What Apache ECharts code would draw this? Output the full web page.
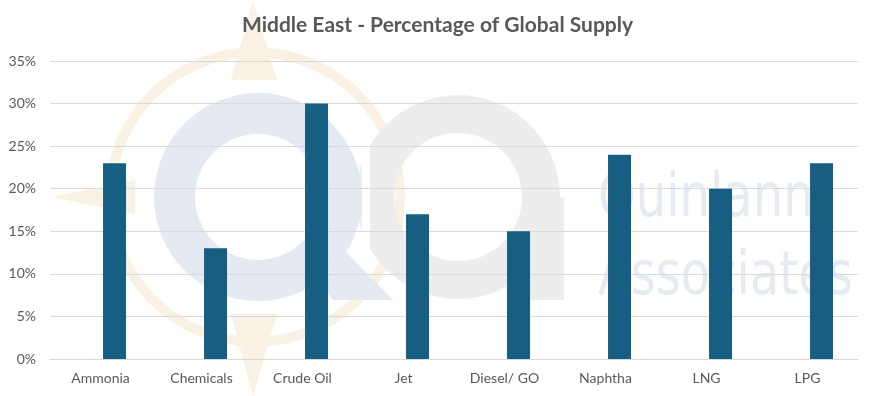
<!DOCTYPE html>
<html><head><meta charset="utf-8">
<script src="https://cdn.jsdelivr.net/npm/echarts@6/dist/echarts.min.js"></script>
<style>html,body{margin:0;padding:0;background:#fff}#c{width:875px;height:396px}</style>
</head><body><div id="c"></div>
<script>
const categories = ['Ammonia','Chemicals','Crude Oil','Jet','Diesel/ GO','Naphtha','LNG','LPG'];
const supplyShare = [23, 13, 30, 17, 15, 24, 20, 23];
// empty first series of the original clustered chart (keeps bars right of the label centre)
const emptySeries = [null, null, null, null, null, null, null, null];
const yTicks = [0, 5, 10, 15, 20, 25, 30, 35];

const chart = echarts.init(document.getElementById('c'));
const wm = [];
// compass (beige)
wm.push({type:'ring', shape:{cx:255, cy:197, r:150, r0:140}, style:{fill:'#f8f1e4'}, z:-10, silent:true});
wm.push({type:'polygon', shape:{points:[[231,80],[253,0],[277,80]]}, style:{fill:'#f8f1e4'}, z:-10, silent:true});
wm.push({type:'polygon', shape:{points:[[231,314],[253,396],[277,314]]}, style:{fill:'#f8f1e4'}, z:-10, silent:true});
wm.push({type:'polygon', shape:{points:[[135,180],[52,197],[135,214]]}, style:{fill:'#f8f1e4'}, z:-10, silent:true});
// "a" (gray)
wm.push({type:'ring', shape:{cx:458, cy:197, r:102, r0:64}, style:{fill:'#ededed'}, z:-9, silent:true});
wm.push({type:'rect', shape:{x:523, y:197, width:41, height:103}, style:{fill:'#ededed'}, z:-9, silent:true});
wm.push({type:'rect', shape:{x:362, y:140, width:8, height:115}, style:{fill:'#ffffff'}, z:-9, silent:true});
// "Q" (light blue)
wm.push({type:'ring', shape:{cx:258, cy:197, r:104, r0:63}, style:{fill:'#e4e9f2'}, z:-8, silent:true});
wm.push({type:'polygon', shape:{points:[[347,253],[393,300],[333,300],[310,270]]}, style:{fill:'#e4e9f2'}, z:-8, silent:true});
// text
wm.push({type:'text', x:598, y:170, scaleX:0.8, style:{text:'Quinlann', font:'60px "DejaVu Sans"', fill:'#e6ebf2'}, z:-8, silent:true});
wm.push({type:'text', x:598, y:248, scaleX:0.8, style:{text:'Associates', font:'60px "DejaVu Sans"', fill:'#e6ebf2'}, z:-8, silent:true});

chart.setOption({
  animation:false,
  title:{text:'Middle East - Percentage of Global Supply', left:'center', top:10,
    textStyle:{fontFamily:'Lato', fontWeight:'bold', fontSize:21, color:'#595959'}},
  graphic: wm,
  grid:{left:50, right:17, top:61, bottom:37},
  xAxis:{type:'category', data:categories,
    axisLine:{lineStyle:{color:'#d9d9d9'}}, axisTick:{show:false},
    axisLabel:{color:'#595959', fontFamily:'Lato', fontSize:14, margin:12}},
  yAxis:{type:'value', min:yTicks[0], max:yTicks[yTicks.length-1], interval:5,
    axisLine:{show:false}, axisTick:{show:false},
    splitLine:{lineStyle:{color:'#d9d9d9', width:1}},
    axisLabel:{color:'#595959', fontFamily:'Lato', fontSize:14, margin:14, formatter:v=>v+'%'}},
  series:[
    {type:'bar', data:emptySeries, barWidth:23, barGap:'22%', silent:true},
    {type:'bar', data:supplyShare, barWidth:23, barGap:'22%', itemStyle:{color:'#165f82'}}
  ]
});
</script></body></html>
